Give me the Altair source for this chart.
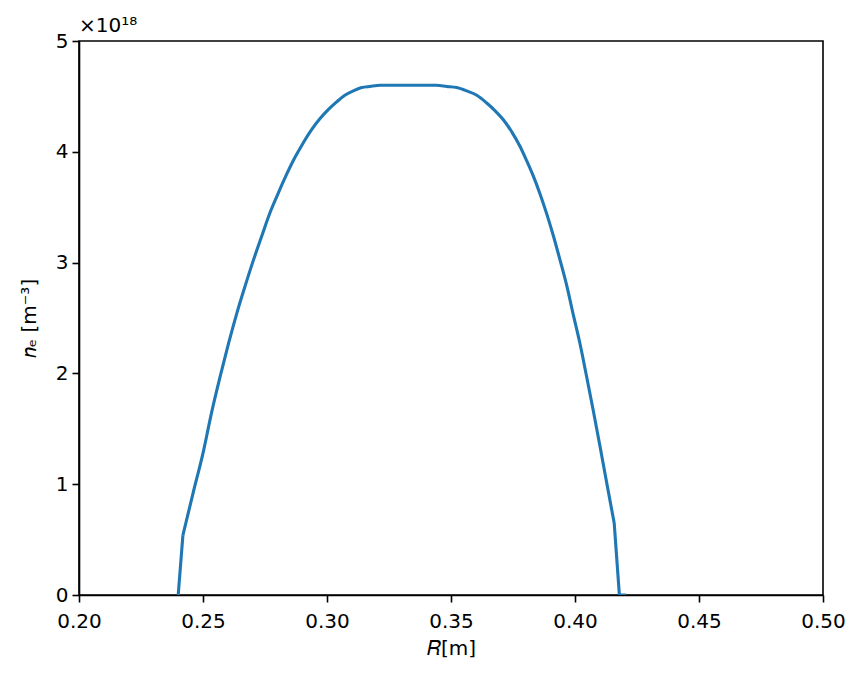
import altair as alt
import pandas as pd

R_vals = [0.2400, 0.2419, 0.2460, 0.2501, 0.2535, 0.2569, 0.2603, 0.2636, 0.2670, 0.2703,
          0.2737, 0.2770, 0.2804, 0.2838, 0.2871, 0.2904, 0.2938, 0.2972, 0.3005, 0.3039,
          0.3072, 0.3106, 0.3140, 0.3173, 0.3214, 0.3254, 0.3300, 0.3350, 0.3400, 0.3440,
          0.3483, 0.3523, 0.3563, 0.3604, 0.3644, 0.3678, 0.3711, 0.3745, 0.3778, 0.3805,
          0.3832, 0.3859, 0.3886, 0.3913, 0.3940, 0.3967, 0.3993, 0.4020, 0.4047, 0.4074,
          0.4101, 0.4128, 0.4158, 0.4179, 0.4206]
ne_vals = [0.00, 0.54, 0.92, 1.29, 1.65, 1.97, 2.27, 2.54, 2.79, 3.02,
           3.24, 3.45, 3.63, 3.80, 3.95, 4.08, 4.20, 4.30, 4.38, 4.45,
           4.51, 4.55, 4.58, 4.59, 4.60, 4.60, 4.60, 4.60, 4.60, 4.60,
           4.59, 4.58, 4.55, 4.51, 4.44, 4.37, 4.29, 4.18, 4.05, 3.92,
           3.78, 3.62, 3.44, 3.24, 3.02, 2.79, 2.53, 2.27, 1.97, 1.66,
           1.34, 1.01, 0.65, 0.00, 0.00]  # in units of 1e18 m^-3

x_ticks = [0.20, 0.25, 0.30, 0.35, 0.40, 0.45, 0.50]
y_ticks = [0, 1, 2, 3, 4, 5]
offset_label = "×10¹⁸"

n = len(R_vals)
df = pd.DataFrame({"R": R_vals, "ne": ne_vals, "i": list(range(n))})

FONT = "DejaVu Sans"
BLUE = "#1f77b4"

x_enc = alt.X("R:Q", scale=alt.Scale(domain=[0.2, 0.5], nice=False, zero=False),
              axis=alt.Axis(values=x_ticks, format=".2f", title="𝑅[m]", grid=False,
                            tickSize=7, tickWidth=1.6, tickColor="black",
                            domainColor="black", domainWidth=1.6, labelFlush=False,
                            labelFontSize=20, labelColor="black", labelPadding=9,
                            titleFontSize=20, titleFontWeight="normal", titleColor="black",
                            titlePadding=7, labelFont=FONT, titleFont=FONT))
y_enc = alt.Y("ne:Q", scale=alt.Scale(domain=[0, 5], nice=False),
              axis=alt.Axis(values=y_ticks, format="d", title="𝑛ₑ [m⁻³]", grid=False,
                            tickSize=7, tickWidth=1.6, tickColor="black",
                            domainColor="black", domainWidth=1.6, labelFlush=False,
                            labelFontSize=20, labelColor="black", labelPadding=4,
                            titleFontSize=20, titleFontWeight="normal", titleColor="black",
                            titlePadding=16, labelFont=FONT, titleFont=FONT))

base = alt.Chart(df).transform_calculate(
    seg="datum.i <= 1 ? 'a' : (datum.i >= %d ? 'b' : 'm')" % (n - 3)
)

# smooth core of the profile (between the two edge kinks)
core = base.transform_filter(f"datum.i >= 1 && datum.i <= {n - 3}").mark_line(
    color=BLUE, strokeWidth=3.1, clip=True, interpolate="monotone"
).encode(x=x_enc, y=y_enc, order="i:Q")

# straight edge segments
edges = base.transform_filter(f"datum.i <= 1 || datum.i >= {n - 3}").mark_line(
    color=BLUE, strokeWidth=3.1, clip=True
).encode(x=x_enc, y=y_enc, order="i:Q", detail="seg:N")

offset = alt.Chart(pd.DataFrame({"t": [offset_label]})).mark_text(
    align="left", baseline="alphabetic", fontSize=20, font=FONT, color="black"
).encode(text="t:N", x=alt.value(0), y=alt.value(-9))

chart = (core + edges + offset).properties(
    width=744, height=554,
    autosize=alt.AutoSizeParams(type="none"),
    padding={"left": 71, "top": 33, "right": 30, "bottom": 73},
).configure_view(stroke="black", strokeWidth=1.6)

chart.save("out.html", embed_options={"renderer": "svg", "actions": False})
